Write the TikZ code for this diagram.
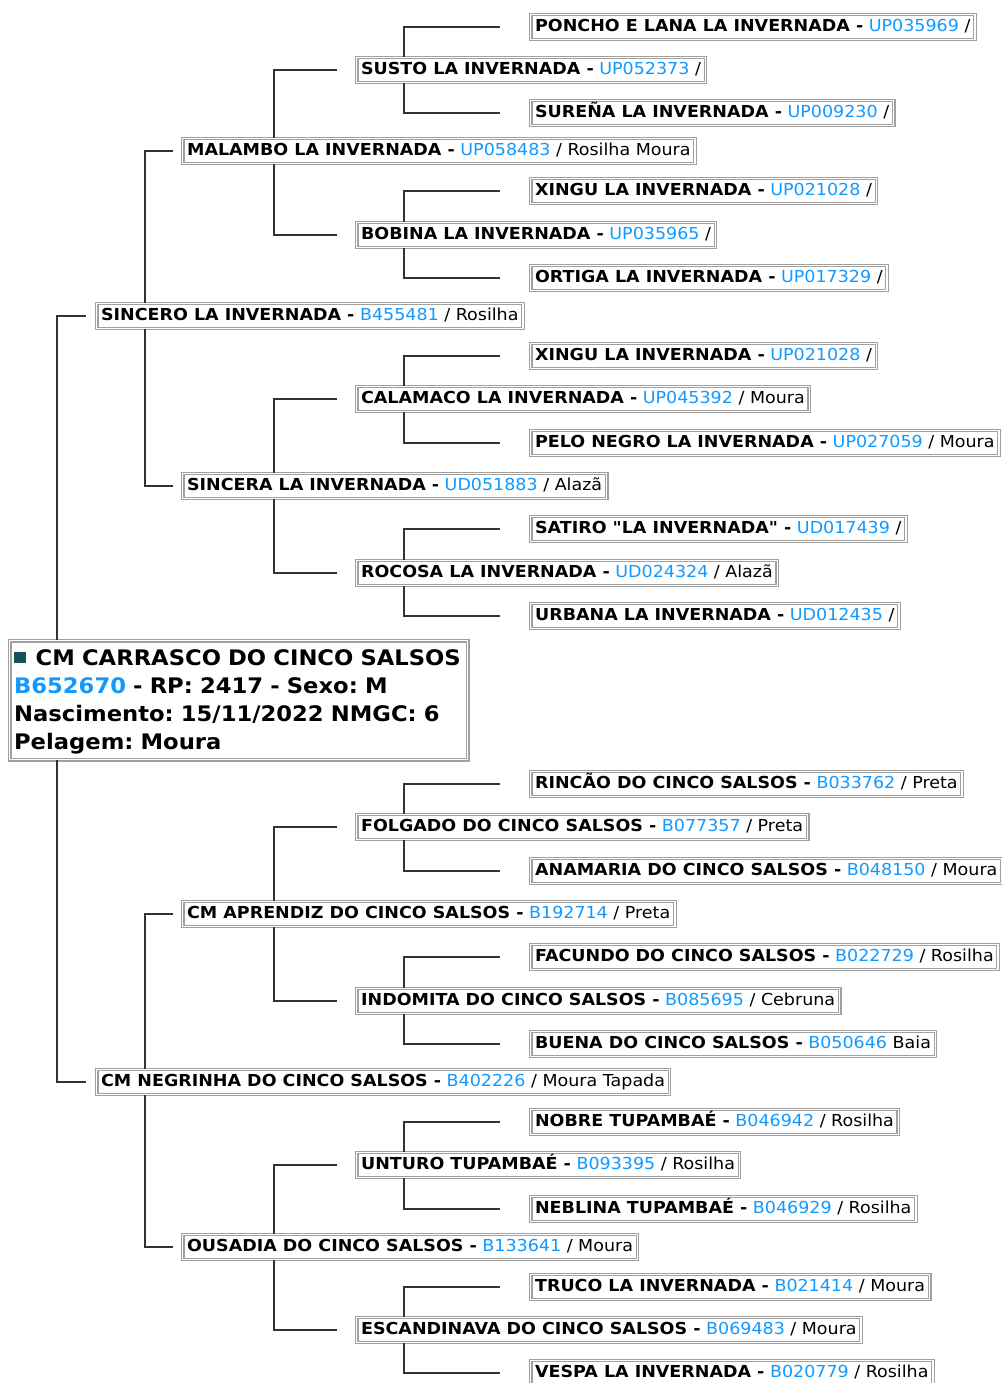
\documentclass[tikz,border=0pt]{standalone}
\usepackage{fontspec}
\setmainfont[FakeStretch=1.06, Ligatures=TeXOff]{DejaVu Sans}
\usepackage{xcolor}
\usepackage{tikz}
\frenchspacing

\definecolor{idblue}{RGB}{17,153,255}
\definecolor{linkgray}{RGB}{51,51,51}
\definecolor{boxgray}{RGB}{160,160,160}
\definecolor{marker}{RGB}{22,82,92}

\tikzset{
  horse/.style={draw=boxgray, line width=1.2pt, double=white, double distance=1.5pt,
    fill=white, anchor=west, inner xsep=4.5pt, inner ysep=4.5pt,
    text height=12.5pt, text depth=3.5pt, font=\fontsize{16.5}{19}\selectfont},
  rootbox/.style={draw=boxgray, line width=1.2pt, double=white, double distance=1.5pt,
    fill=white, anchor=north west, text width=449pt, align=left,
    inner xsep=4.5pt, inner ysep=3pt,
    font=\fontsize{21.4}{28}\selectfont\bfseries},
  link/.style={draw=linkgray, line width=2pt},
}
\newcommand{\reg}[1]{\textcolor{idblue}{#1}}

\begin{document}
\begin{tikzpicture}[x=1pt, y=-1pt]
    \useasboundingbox[fill=white] (0,0) rectangle (1001,1383);
    % animal
    \node[rootbox] (root) at (9,640) {\rule{0pt}{21.5pt}\textcolor{marker}{\raisebox{2pt}{\rule{11.5pt}{11.5pt}}}\hspace{3pt} CM CARRASCO DO CINCO SALSOS\\
      \reg{B652670} - RP: 2417 - Sexo: M\\
      Nascimento: 15/11/2022 NMGC: 6\\
      Pelagem: Moura\rule[-7.5pt]{0pt}{7.5pt}};
    % parents
    \node[horse] (s) at (96,316) {\textbf{SINCERO LA INVERNADA -} \reg{B455481} / Rosilha};
    \node[horse] (d) at (96,1082) {\textbf{CM NEGRINHA DO CINCO SALSOS -} \reg{B402226} / Moura Tapada};
    % grandparents
    \node[horse] (ss) at (182,151) {\textbf{MALAMBO LA INVERNADA -} \reg{UP058483} / Rosilha Moura};
    \node[horse] (sd) at (182,486) {\textbf{SINCERA LA INVERNADA -} \reg{UD051883} / Alazã};
    \node[horse] (ds) at (182,914) {\textbf{CM APRENDIZ DO CINCO SALSOS -} \reg{B192714} / Preta};
    \node[horse] (dd) at (182,1247) {\textbf{OUSADIA DO CINCO SALSOS -} \reg{B133641} / Moura};
    % great-grandparents
    \node[horse] (sss) at (356,70) {\textbf{SUSTO LA INVERNADA -} \reg{UP052373} /};
    \node[horse] (ssd) at (356,235) {\textbf{BOBINA LA INVERNADA -} \reg{UP035965} /};
    \node[horse] (sds) at (356,399) {\textbf{CALAMACO LA INVERNADA -} \reg{UP045392} / Moura};
    \node[horse] (sdd) at (356,573) {\textbf{ROCOSA LA INVERNADA -} \reg{UD024324} / Alazã};
    \node[horse] (dss) at (356,827) {\textbf{FOLGADO DO CINCO SALSOS -} \reg{B077357} / Preta};
    \node[horse] (dsd) at (356,1001) {\textbf{INDOMITA DO CINCO SALSOS -} \reg{B085695} / Cebruna};
    \node[horse] (dds) at (356,1165) {\textbf{UNTURO TUPAMBAÉ -} \reg{B093395} / Rosilha};
    \node[horse] (ddd) at (356,1330) {\textbf{ESCANDINAVA DO CINCO SALSOS -} \reg{B069483} / Moura};
    % great-great-grandparents
    \node[horse] (ssss) at (530,27) {\textbf{PONCHO E LANA LA INVERNADA -} \reg{UP035969} /};
    \node[horse] (sssd) at (530,113) {\textbf{SUREÑA LA INVERNADA -} \reg{UP009230} /};
    \node[horse] (ssds) at (530,191) {\textbf{XINGU LA INVERNADA -} \reg{UP021028} /};
    \node[horse] (ssdd) at (530,278) {\textbf{ORTIGA LA INVERNADA -} \reg{UP017329} /};
    \node[horse] (sdss) at (530,356) {\textbf{XINGU LA INVERNADA -} \reg{UP021028} /};
    \node[horse] (sdsd) at (530,443) {\textbf{PELO NEGRO LA INVERNADA -} \reg{UP027059} / Moura};
    \node[horse] (sdds) at (530,529) {\textbf{SATIRO "LA INVERNADA" -} \reg{UD017439} /};
    \node[horse] (sddd) at (530,616) {\textbf{URBANA LA INVERNADA -} \reg{UD012435} /};
    \node[horse] (dsss) at (530,784) {\textbf{RINCÃO DO CINCO SALSOS -} \reg{B033762} / Preta};
    \node[horse] (dssd) at (530,871) {\textbf{ANAMARIA DO CINCO SALSOS -} \reg{B048150} / Moura};
    \node[horse] (dsds) at (530,957) {\textbf{FACUNDO DO CINCO SALSOS -} \reg{B022729} / Rosilha};
    \node[horse] (dsdd) at (530,1044) {\textbf{BUENA DO CINCO SALSOS -} \reg{B050646} Baia};
    \node[horse] (ddss) at (530,1122) {\textbf{NOBRE TUPAMBAÉ -} \reg{B046942} / Rosilha};
    \node[horse] (ddsd) at (530,1209) {\textbf{NEBLINA TUPAMBAÉ -} \reg{B046929} / Rosilha};
    \node[horse] (ddds) at (530,1287) {\textbf{TRUCO LA INVERNADA -} \reg{B021414} / Moura};
    \node[horse] (dddd) at (530,1373) {\textbf{VESPA LA INVERNADA -} \reg{B020779} / Rosilha};
    % links
    \foreach \p/\a/\c in {root/north/s, root/south/d}{
      \draw[link] ([xshift=48]\p.\a\space west) |- ([xshift=-10]\c.west);
    }
    \foreach \p/\a/\c in {s/north/ss, s/south/sd, d/north/ds, d/south/dd}{
      \draw[link] ([xshift=49]\p.\a\space west) |- ([xshift=-9]\c.west);
    }
    \foreach \p/\a/\c in {ss/north/sss, ss/south/ssd, sd/north/sds, sd/south/sdd,
                          ds/north/dss, ds/south/dsd, dd/north/dds, dd/south/ddd}{
      \draw[link] ([xshift=92]\p.\a\space west) |- ([xshift=-19]\c.west);
    }
    \foreach \p/\a/\c in {sss/north/ssss, sss/south/sssd, ssd/north/ssds, ssd/south/ssdd,
                          sds/north/sdss, sds/south/sdsd, sdd/north/sdds, sdd/south/sddd,
                          dss/north/dsss, dss/south/dssd, dsd/north/dsds, dsd/south/dsdd,
                          dds/north/ddss, dds/south/ddsd, ddd/north/ddds, ddd/south/dddd}{
      \draw[link] ([xshift=48]\p.\a\space west) |- ([xshift=-30]\c.west);
    }
\end{tikzpicture}
\end{document}
